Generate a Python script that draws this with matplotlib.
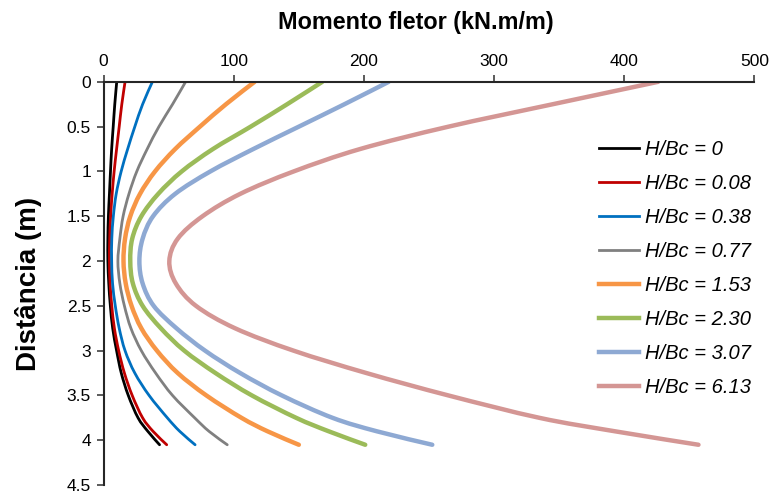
import matplotlib.pyplot as plt
from matplotlib.path import Path
from matplotlib.patches import PathPatch
from matplotlib.lines import Line2D

plt.rcParams['font.family'] = ['Liberation Sans', 'DejaVu Sans']

# profundidade (m) e momento fletor (kN.m/m) para cada relacao H/Bc
profundidade = [0, 0.25, 0.5, 0.75, 1.0, 1.25, 1.5, 1.75, 2.0,
                2.25, 2.5, 2.75, 3.0, 3.25, 3.5, 3.75, 3.9, 4.05]

m_000 = [10.1, 8.6, 7.4, 6.2, 5.3, 4.5, 3.7, 3.3, 3.3,
         4.0, 5.2, 7.0, 10.0, 13.6, 19.0, 26.5, 34.0, 43.0]
m_008 = [16.5, 14.0, 12.0, 10.0, 8.1, 6.6, 5.4, 4.7, 4.5,
         5.0, 6.3, 8.3, 11.6, 16.0, 22.0, 30.0, 38.0, 48.5]
m_038 = [37.5, 30.0, 24.0, 18.5, 13.5, 9.7, 7.5, 6.3, 6.2,
         6.9, 9.0, 12.0, 16.5, 24.0, 35.0, 49.0, 58.5, 70.3]
m_077 = [63.0, 53.0, 42.5, 33.5, 25.5, 19.5, 15.0, 12.5, 11.0,
         12.5, 16.0, 21.0, 29.0, 40.0, 53.0, 70.0, 81.0, 95.0]
m_153 = [116.0, 94.0, 74.0, 55.0, 39.5, 28.0, 20.5, 16.5, 15.3,
         17.0, 21.5, 29.0, 41.0, 57.0, 79.0, 106.0, 126.0, 150.0]
m_230 = [168.0, 141.0, 113.0, 84.0, 60.0, 42.0, 29.0, 22.0, 20.5,
         22.5, 30.0, 44.0, 62.0, 86.0, 114.0, 148.0, 173.0, 201.0]
m_307 = [219.0, 185.0, 150.0, 115.0, 82.0, 55.0, 38.0, 30.0, 27.5,
         30.0, 38.5, 56.0, 78.0, 105.0, 137.0, 176.0, 210.0, 252.5]
m_613 = [426.0, 345.0, 265.0, 197.0, 146.0, 105.0, 76.0, 57.0, 50.5,
         55.5, 71.0, 101.0, 146.0, 202.0, 265.0, 335.0, 393.0, 457.0]

series = [m_000, m_008, m_038, m_077, m_153, m_230, m_307, m_613]
rotulos = ['H/Bc = 0', 'H/Bc = 0.08', 'H/Bc = 0.38', 'H/Bc = 0.77',
           'H/Bc = 1.53', 'H/Bc = 2.30', 'H/Bc = 3.07', 'H/Bc = 6.13']
cores = ['#000000', '#C00000', '#0070C0', '#808080',
         '#F79646', '#9BBB59', '#8EA9D3', '#D49694']
larguras = [2.0, 2.0, 2.0, 2.0, 3.2, 3.2, 3.2, 3.2]


def linha_suave(x, y):
    # linha suavizada como no Excel (Bezier pelos proprios pontos)
    pts = list(zip(x, y))
    verts = [pts[0]]
    codes = [Path.MOVETO]
    n = len(pts)
    for i in range(n - 1):
        p0 = pts[i - 1] if i > 0 else pts[i]
        p1 = pts[i]
        p2 = pts[i + 1]
        p3 = pts[i + 2] if i + 2 < n else pts[i + 1]
        c1 = (p1[0] + (p2[0] - p0[0]) / 6, p1[1] + (p2[1] - p0[1]) / 6)
        c2 = (p2[0] - (p3[0] - p1[0]) / 6, p2[1] - (p3[1] - p1[1]) / 6)
        verts += [c1, c2, p2]
        codes += [Path.CURVE4] * 3
    return Path(verts, codes)


fig = plt.figure(figsize=(7.73, 4.96), dpi=100)
ax = fig.add_axes([0.134, 0.022, 0.842, 0.813])

handles = []
for m, lab, c, lw in zip(series, rotulos, cores, larguras):
    ax.add_patch(PathPatch(linha_suave(m, profundidade), facecolor='none',
                           edgecolor=c, lw=lw, capstyle='round', joinstyle='round'))
    handles.append(Line2D([], [], color=c, lw=lw, label=lab))

ax.set_xlim(0, 500)
ax.set_ylim(4.5, 0)
ax.set_xticks([0, 100, 200, 300, 400, 500])
ax.set_yticks([0, 0.5, 1, 1.5, 2, 2.5, 3, 3.5, 4, 4.5])
ax.set_yticklabels(['0', '0.5', '1', '1.5', '2', '2.5', '3', '3.5', '4', '4.5'])
ax.xaxis.tick_top()
ax.xaxis.set_label_position('top')
ax.tick_params(axis='both', labelsize=12.5, length=5, width=1.2, color='#404040', pad=4)

for s in ['right', 'bottom']:
    ax.spines[s].set_visible(False)
for s in ['left', 'top']:
    ax.spines[s].set_linewidth(1.5)
    ax.spines[s].set_color('#262626')

ax.set_xlabel('Momento fletor (kN.m/m)', fontsize=16.8, fontweight='bold')
ax.xaxis.set_label_coords(0.479, 1.13)
ax.set_ylabel('Distância (m)', fontsize=20, fontweight='bold', labelpad=18)

leg = ax.legend(handles=handles, loc='upper left', bbox_to_anchor=(0.733, 0.9),
                frameon=False, fontsize=14.5, handlelength=2.0, handletextpad=0.3,
                labelspacing=0.74)
for t in leg.get_texts():
    t.set_fontstyle('italic')

fig.savefig('out.png', dpi=100)
